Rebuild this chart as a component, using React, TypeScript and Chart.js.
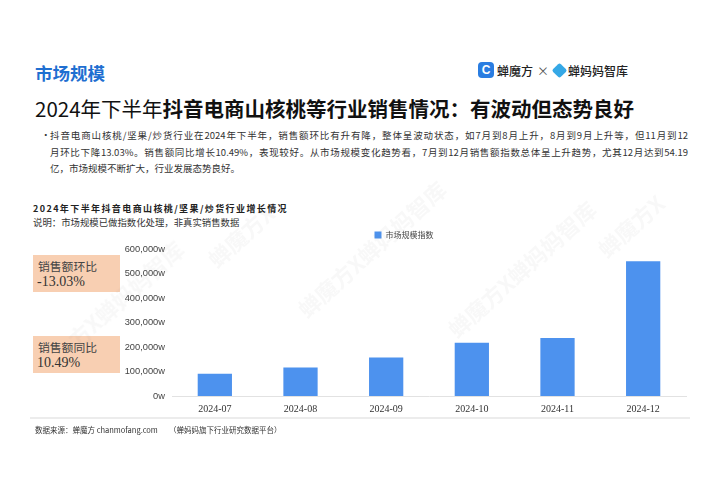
import React, { useEffect, useRef } from "react";
import { Chart, registerables } from "chart.js";

Chart.register(...registerables);

const categories = ["2024-07", "2024-08", "2024-09", "2024-10", "2024-11", "2024-12"];
const marketIndex = [91000, 116000, 157000, 217000, 237000, 550000];
const seriesName = "市场规模指数";
const yMax = 600000;
const yStep = 100000;

const sectionTitle = "市场规模";
const titleLight = "2024年下半年";
const titleBold = "抖音电商山核桃等行业销售情况：有波动但态势良好";
const paraLines = [
  "抖音电商山核桃/坚果/炒货行业在2024年下半年，销售额环比有升有降，整体呈波动状态，如7月到8月上升，8月到9月上升等，但11月到12",
  "月环比下降13.03%。销售额同比增长10.49%，表现较好。从市场规模变化趋势看，7月到12月销售额指数总体呈上升趋势，尤其12月达到54.19",
  "亿，市场规模不断扩大，行业发展态势良好。",
];
const chartTitle = "2024年下半年抖音电商山核桃/坚果/炒货行业增长情况";
const chartNote = "说明：市场规模已做指数化处理，非真实销售数据";
const kpiLabels = ["销售额环比", "销售额同比"];
const kpiValues = ["-13.03%", "10.49%"];
const sourceText = "数据来源：蝉魔方 chanmofang.com　　（蝉妈妈旗下行业研究数据平台）";

const CJK = '"Noto Sans CJK SC", "Noto Sans", sans-serif';

function BarChart() {
  const ref = useRef<HTMLCanvasElement | null>(null);
  useEffect(() => {
    if (!ref.current) return;
    const chart = new Chart(ref.current, {
      type: "bar",
      data: {
        labels: categories,
        datasets: [
          {
            label: seriesName,
            data: marketIndex,
            backgroundColor: "#4d92ee",
            borderColor: "#4d92ee",
            barPercentage: 0.5,
            categoryPercentage: 0.8,
          },
        ],
      },
      options: {
        animation: false,
        responsive: false,
        maintainAspectRatio: false,
        layout: { padding: { left: 12, right: 9, top: 0, bottom: 0 } },
        plugins: {
          legend: {
            display: true,
            position: "top",
            labels: {
              boxWidth: 7,
              boxHeight: 7,
              padding: 5,
              color: "#444",
              font: { size: 8, family: CJK },
            },
          },
          tooltip: { enabled: false },
        },
        scales: {
          x: {
            grid: { display: false, drawTicks: false },
            border: { display: true, color: "#e2e2e2", width: 1 },
            ticks: {
              padding: 7,
              color: "#333",
              font: { family: '"Liberation Serif", serif', size: 10 },
            },
            afterFit: (s: any) => {
              s.height = 24;
            },
          },
          y: {
            min: 0,
            max: yMax,
            grid: { display: false, drawTicks: false },
            border: { display: false },
            ticks: {
              stepSize: yStep,
              padding: 7,
              color: "#444",
              font: { family: '"Liberation Sans", sans-serif', size: 9.3 },
              callback: (v: any) => Number(v).toLocaleString("en-US") + "w",
            },
            afterFit: (s: any) => {
              s.width = 50;
            },
          },
        },
      },
    });
    return () => chart.destroy();
  }, []);
  return (
    <canvas
      ref={ref}
      width={585}
      height={194}
      style={{ position: "absolute", left: 110, top: 226, width: 585, height: 194 }}
    />
  );
}

const watermarks = [
  { x: 200, y: 250, t: "蝉魔方X" },
  { x: 290, y: 300, t: "蝉魔方X蝉妈妈智库" },
  { x: 440, y: 320, t: "蝉魔方X蝉妈妈智库" },
  { x: 60, y: 330, t: "方X蝉妈妈智库" },
  { x: 590, y: 240, t: "蝉魔方X" },
];

export default function App() {
  return (
    <div
      style={{
        position: "absolute",
        left: 0,
        top: 0,
        width: 707,
        height: 500,
        background: "#fff",
        overflow: "hidden",
        fontFamily: CJK,
        color: "#222",
      }}
    >
      <div style={{ position: "absolute", left: 35, top: 61, fontSize: 17.5, fontWeight: 700, color: "#1f6fd1", lineHeight: "24px" }}>
        {sectionTitle}
      </div>
      {/* logo */}
      <div style={{ position: "absolute", left: 478, top: 61, height: 18, display: "flex", alignItems: "center", fontSize: 12, fontWeight: 500, color: "#222", whiteSpace: "nowrap" }}>
        <div style={{ width: 16, height: 16, borderRadius: 4, background: "#2a7de1", color: "#fff", fontSize: 12, lineHeight: "16px", textAlign: "center", fontFamily: '"Liberation Sans", sans-serif', fontWeight: 700 }}>C</div>
        <span style={{ marginLeft: 3 }}>蝉魔方</span>
        <span style={{ marginLeft: 4, fontWeight: 400, color: "#555" }}>×</span>
        <div style={{ marginLeft: 5, width: 11, height: 11, background: "#35a8e6", transform: "rotate(45deg)", borderRadius: 2 }} />
        <span style={{ marginLeft: 3 }}>蝉妈妈智库</span>
      </div>
      <div style={{ position: "absolute", left: 35, top: 94, fontSize: 20.5, lineHeight: "28px", whiteSpace: "nowrap", color: "#111" }}>
        <span style={{ fontWeight: 400 }}>{titleLight}</span>
        <span style={{ fontWeight: 700 }}>{titleBold}</span>
      </div>
      <div style={{ position: "absolute", left: 41, top: 127, fontSize: 9.5, color: "#333" }}>·</div>
      {paraLines.map((l, i) => (
        <div
          key={i}
          style={{
            position: "absolute",
            left: 50,
            top: 127 + i * 16.5,
            width: 638,
            fontSize: 9.5,
            lineHeight: "16px",
            color: "#333",
            whiteSpace: "nowrap",
            textAlign: i < 2 ? "justify" : "left",
            textAlignLast: i < 2 ? "justify" : "left",
          } as any}
        >
          {l}
        </div>
      ))}
      <div style={{ position: "absolute", left: 33, top: 202, fontSize: 9, fontWeight: 700, letterSpacing: 1.4, color: "#222", whiteSpace: "nowrap", lineHeight: "14px" }}>
        {chartTitle}
      </div>
      <div style={{ position: "absolute", left: 33, top: 215, fontSize: 9.4, color: "#333", whiteSpace: "nowrap", lineHeight: "14px" }}>
        {chartNote}
      </div>
      {[255, 336].map((top, i) => (
        <div key={i} style={{ position: "absolute", left: 33, top, width: 87, height: 37, background: "#f8cfb2" }}>
          <div style={{ position: "absolute", left: 5, top: 3, fontSize: 11.8, lineHeight: "16px", color: "#444", whiteSpace: "nowrap" }}>{kpiLabels[i]}</div>
          <div style={{ position: "absolute", left: 4, top: 19, fontSize: 14, lineHeight: "16px", color: "#333", fontFamily: '"Liberation Serif", serif', whiteSpace: "nowrap" }}>{kpiValues[i]}</div>
        </div>
      ))}
      <BarChart />
      <div style={{ position: "absolute", left: 30, top: 417, width: 660, height: 2, background: "#ececec" }} />
      <div style={{ position: "absolute", left: 35, top: 424, fontSize: 7.5, color: "#333", whiteSpace: "nowrap", lineHeight: "12px" }}>
        {sourceText}
      </div>
      {watermarks.map((w, i) => (
        <div
          key={"wm" + i}
          style={{
            position: "absolute",
            left: w.x,
            top: w.y,
            fontSize: 22,
            fontWeight: 700,
            color: "rgba(120,120,120,0.055)",
            transform: "rotate(-42deg)",
            transformOrigin: "left top",
            whiteSpace: "nowrap",
            pointerEvents: "none",
          }}
        >
          {w.t}
        </div>
      ))}
    </div>
  );
}
